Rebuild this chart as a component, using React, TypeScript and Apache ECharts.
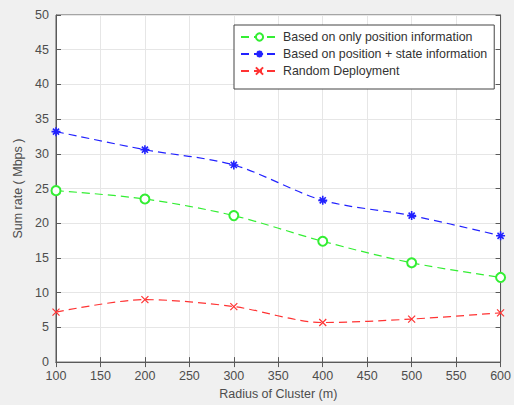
import React, { useEffect, useRef } from "react";
import * as echarts from "echarts";

const radius = [100, 200, 300, 400, 500, 600];
const positionOnly = [24.7, 23.5, 21.1, 17.4, 14.3, 12.2];
const positionState = [33.2, 30.6, 28.4, 23.3, 21.1, 18.2];
const randomDeploy = [7.2, 9.0, 8.0, 5.7, 6.2, 7.1];
const seriesNames = [
  "Based on only position information",
  "Based on position + state information",
  "Random Deployment",
];

const FONT = "'Liberation Sans', Arial, sans-serif";
const TXT = "#4d4d4d";
const AX = "#5a5a5a";
const FS = 12.5;

const asterisk = "path://M5,0L5,10M0,5L10,5M1.6,1.6L8.4,8.4M8.4,1.6L1.6,8.4";
const cross = "path://M0,0L10,10M10,0L0,10";

export default function App() {
  const ref = useRef<HTMLDivElement>(null);
  useEffect(() => {
    if (!ref.current) return;
    const chart = echarts.init(ref.current, undefined, { renderer: "svg" });
    const pairs = (ys: number[]) => radius.map((x, i) => [x, ys[i]]);
    const dash = [8, 5];
    chart.setOption({
      animation: false,
      backgroundColor: "#f0f0f0",
      textStyle: { fontFamily: FONT },
      grid: {
        left: 56,
        right: 12,
        top: 15,
        bottom: 41,
        show: true,
        backgroundColor: "#ffffff",
        borderColor: AX,
        borderWidth: 1,
      },
      legend: {
        left: 234,
        top: 25,
        orient: "vertical",
        backgroundColor: "#ffffff",
        borderColor: "#444",
        borderWidth: 1,
        borderRadius: 0,
        padding: [6, 7, 12, 6],
        itemGap: 5,
        itemWidth: 37,
        itemHeight: 9,
        textStyle: { fontSize: 12.4, color: "#333", fontFamily: FONT },
        data: seriesNames,
      },
      xAxis: [
        {
          type: "value",
          min: 100,
          max: 600,
          interval: 50,
          name: "Radius of Cluster (m)",
          nameLocation: "middle",
          nameGap: 22,
          nameTextStyle: { fontSize: FS, color: TXT, fontFamily: FONT },
          axisLine: { show: true, lineStyle: { color: AX } },
          axisTick: { show: true, inside: true, length: 5, lineStyle: { color: AX } },
          axisLabel: { fontSize: FS, color: TXT, margin: 7, fontFamily: FONT },
          splitLine: { show: true, lineStyle: { color: "#e6e6e6", width: 1 } },
        },
        {
          type: "value",
          position: "top",
          min: 100,
          max: 600,
          interval: 50,
          axisLine: { show: true, lineStyle: { color: AX } },
          axisTick: { show: true, inside: true, length: 5, lineStyle: { color: AX } },
          axisLabel: { show: false },
          splitLine: { show: false },
        },
      ],
      yAxis: [
        {
          type: "value",
          min: 0,
          max: 50,
          interval: 5,
          name: "Sum rate ( Mbps )",
          nameLocation: "middle",
          nameGap: 28,
          nameTextStyle: { fontSize: FS, color: TXT, fontFamily: FONT },
          axisLine: { show: true, lineStyle: { color: AX } },
          axisTick: { show: true, inside: true, length: 5, lineStyle: { color: AX } },
          axisLabel: { fontSize: FS, color: TXT, margin: 7, fontFamily: FONT },
          splitLine: { show: true, lineStyle: { color: "#e6e6e6", width: 1 } },
        },
        {
          type: "value",
          position: "right",
          min: 0,
          max: 50,
          interval: 5,
          axisLine: { show: true, lineStyle: { color: AX } },
          axisTick: { show: true, inside: true, length: 5, lineStyle: { color: AX } },
          axisLabel: { show: false },
          splitLine: { show: false },
        },
      ],
      series: [
        {
          name: seriesNames[0],
          type: "line",
          data: pairs(positionOnly),
          smooth: 0.3,
          symbol: "emptyCircle",
          symbolSize: 9,
          lineStyle: { color: "#33ee33", width: 1.2, type: dash },
          itemStyle: { color: "#33ee33", borderColor: "#33ee33", borderWidth: 1.2 },
        },
        {
          name: seriesNames[1],
          type: "line",
          data: pairs(positionState),
          smooth: 0.3,
          symbol: asterisk,
          symbolSize: 9,
          lineStyle: { color: "#2222ff", width: 1.2, type: dash },
          itemStyle: { color: "#2222ff", borderColor: "#2222ff", borderWidth: 1.6 },
        },
        {
          name: seriesNames[2],
          type: "line",
          data: pairs(randomDeploy),
          smooth: 0.3,
          symbol: cross,
          symbolSize: 7,
          lineStyle: { color: "#ff3333", width: 1.2, type: dash },
          itemStyle: { color: "#ff3333", borderColor: "#ff3333", borderWidth: 1.2 },
        },
      ],
    });
    return () => chart.dispose();
  }, []);
  return (
    <div
      ref={ref}
      style={{ position: "absolute", left: 0, top: 0, width: 514, height: 405 }}
    />
  );
}
